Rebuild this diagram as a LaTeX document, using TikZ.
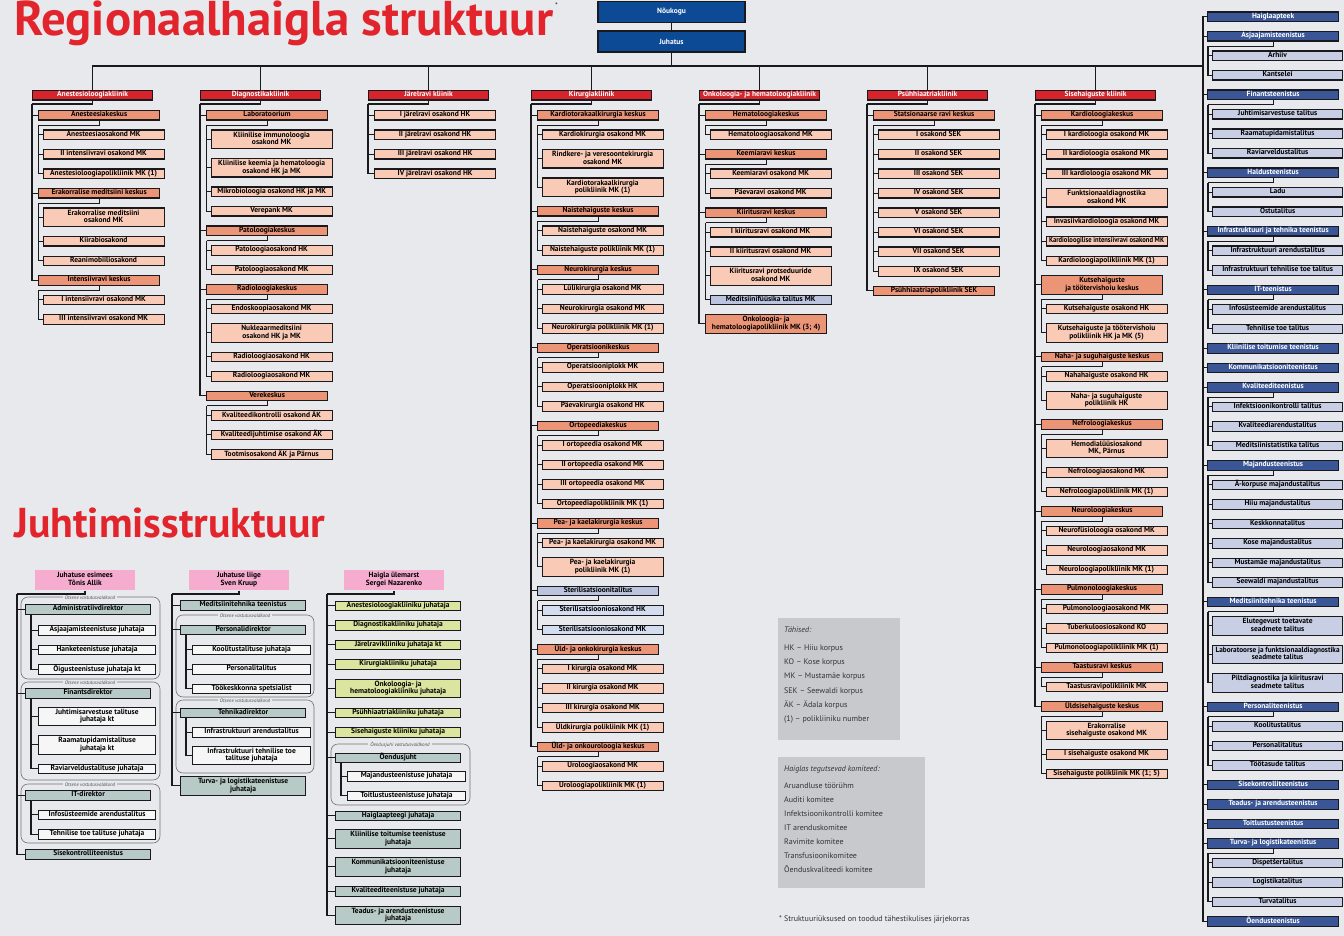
\documentclass[tikz,border=0pt]{standalone}
\usepackage{fontspec}
\usepackage{graphicx}
\setmainfont{PT Sans}
\usetikzlibrary{calc}

\definecolor{bgc}{RGB}{231,233,236}
\definecolor{linec}{RGB}{25,25,30}
\definecolor{hdrred}{RGB}{214,36,44}
\definecolor{titlered}{RGB}{226,36,44}
\definecolor{kcol}{RGB}{235,148,118}
\definecolor{scol}{RGB}{249,203,183}
\definecolor{stgray}{RGB}{186,196,222}
\definecolor{stsub}{RGB}{212,221,240}
\definecolor{navy}{RGB}{12,74,150}
\definecolor{tblue}{RGB}{58,86,150}
\definecolor{tsub}{RGB}{200,206,228}
\definecolor{pinkh}{RGB}{246,172,206}
\definecolor{ggreen}{RGB}{184,202,197}
\definecolor{ygreen}{RGB}{219,229,160}
\definecolor{whbox}{RGB}{246,246,246}
\definecolor{legc}{RGB}{200,201,204}

\tikzset{
  bx/.style={draw=linec,line width=1.2pt,inner sep=0.3pt,anchor=north west,align=center,
    font=\fontsize{7.5}{7.8}\selectfont\bfseries,text=black},
  ln/.style={draw=linec,line width=1.2pt},
  hst/.style={fill=hdrred,text=white},
  curk/.style={fill=kcol},
  curs/.style={fill=scol},
  pk/.style={bx,draw=none,fill=pinkh,minimum width=100pt,minimum height=20pt,anchor=center},
  gg/.style={fill=ggreen},
  yg/.style={fill=ygreen},
  wb/.style={fill=whbox},
  grp/.style={draw=black!55,line width=0.6pt,rounded corners=7pt},
  lbl/.style={fill=bgc,inner xsep=2pt,inner ysep=0.5pt,font=\fontsize{5}{5.4}\selectfont\itshape,text=black!70},
}

% fit text horizontally into a given width
\newsavebox\fitb
\newcommand\fit[2]{\sbox\fitb{\begin{tabular}{@{}c@{}}#2\end{tabular}}%
  \edef\fitw{\the\wd\fitb}%
  \pgfmathsetmacro\fitfac{min(1,(#1)/\fitw)}%
  \scalebox{\fitfac}[1]{\usebox\fitb}}

\newcommand\curY{0}
\newcommand\setY[1]{\xdef\curY{#1}}
\newcommand\advY[1]{\pgfmathsetmacro\tmpY{\curY+#1}\xdef\curY{\tmpY}}
\newcommand\colL{0}
\newcommand\koff{6}
\newcommand\kw{121}
\newcommand\soff{10.5}
\newcommand\sw{121}
\newcommand\spprev{}
\newcommand\subprev{}
\newcommand\curK{}
\newcommand\subfirst{0}

\newcommand\Col[3]{%
  \xdef\colL{#2}%
  \node[bx,hst,minimum width=120pt,minimum height=9.5pt] (#1) at (#2,90) {\fit{114}{#3}};
  \coordinate (#1X) at (#2,104);
  \draw[ln] (#1.south) |- (#1X);
  \draw[ln] (#1.north) |- (bus);
  \xdef\spprev{#1X}%
  \setY{110}}

\newcommand\K[3][1]{%
  \ifnum#1=1 \def\hh{9.5}\else\def\hh{18.5}\fi
  \node[bx,curk,minimum width=\kw pt,minimum height=\hh pt] (#2) at (\colL+\koff,\curY) {\fit{\kw-6}{#3}};
  \draw[ln] (\spprev) |- (#2.west);
  \path (#2.west) ++(-\koff,0) coordinate (#2X);
  \xdef\spprev{#2X}%
  \path (#2.south) ++(0,4.5) coordinate (#2Y);
  \path (#2Y -| #2.west) ++({\soff-4-\koff},0) coordinate (#2Z);
  \xdef\subprev{#2Z}\xdef\curK{#2}\gdef\subfirst{1}%
  \advY{\hh+10}}

\newcommand\Sb[3][1]{%
  \ifnum#1=1 \def\hh{9.5}\else\def\hh{18.5}\fi
  \node[bx,curs,minimum width=\sw pt,minimum height=\hh pt] (#2) at (\colL+\soff,\curY) {\fit{\sw-6}{#3}};
  \ifnum\subfirst=1 \draw[ln] (\curK.south) |- (\subprev);\fi
  \gdef\subfirst{0}%
  \draw[ln] (\subprev) |- (#2.west);
  \path (#2.west) ++(-4,0) coordinate (#2X);
  \xdef\subprev{#2X}%
  \advY{\hh+10}}

% management box: name, x, top, width, height, style, text
\newcommand\MB[7]{\node[bx,#6,minimum width=#4pt,minimum height=#5pt] (#1) at (#2,#3) {\fit{#4-6}{#7}};}

\begin{document}
\begin{tikzpicture}[x=1pt,y=-1pt]
\useasboundingbox (0,0) rectangle (1344,936);
\fill[bgc] (0,0) rectangle (1344,936);

% titles
\node[anchor=base west,inner sep=0,text=titlered,font=\bfseries] (ttl) at (14,36) {\resizebox{539pt}{!}{Regionaalhaigla struktuur}};
\node[anchor=north west,inner sep=0,text=black!80,font=\fontsize{8}{8}\selectfont] (ast) at (555,3) {*};
\node[anchor=base west,inner sep=0,text=titlered,font=\bfseries] (ttl2) at (14,537) {\resizebox{311pt}{!}{Juhtimisstruktuur}};

% top
\node[bx,fill=navy,text=white,anchor=center,minimum width=147pt,minimum height=20.5pt] (nk) at (671.5,12) {Nõukogu};
\node[bx,fill=navy,text=white,anchor=center,minimum width=147pt,minimum height=21pt] (jh) at (671.5,41.5) {Juhatus};
\draw[ln] (nk.south) -- (jh.north);
\coordinate (bus) at (671.5,66);
\coordinate (rbus) at (1203,66);
\draw[ln] (jh.south) -- (bus);
\draw[ln] (bus) -- (rbus);

% ---------- column 1
\Col{ca}{32}{Anestesioloogiakliinik}
\K{a1}{Anesteesiakeskus}
 \Sb{a1a}{Anesteesiaosakond MK}
 \Sb{a1b}{II intensiivravi osakond MK}
 \Sb{a1c}{Anestesioloogiapolikliinik MK (1)}
\K{a2}{Erakorralise meditsiini keskus}
 \Sb[2]{a2a}{Erakorralise meditsiini\\osakond MK}
 \Sb{a2b}{Kiirabiosakond}
 \Sb{a2c}{Reanimobiiliosakond}
\K{a3}{Intensiivravi keskus}
 \Sb{a3a}{I intensiivravi osakond MK}
 \Sb{a3b}{III intensiivravi osakond MK}

% ---------- column 2
\Col{cb}{200}{Diagnostikakliinik}
\K{b1}{Laboratoorium}
 \Sb[2]{b1a}{Kliinilise immunoloogia\\osakond MK}
 \Sb[2]{b1b}{Kliinilise keemia ja hematoloogia\\osakond HK ja MK}
 \Sb{b1c}{Mikrobioloogia osakond HK ja MK}
 \Sb{b1d}{Verepank MK}
\K{b2}{Patoloogiakeskus}
 \Sb{b2a}{Patoloogiaosakond HK}
 \Sb{b2b}{Patoloogiaosakond MK}
\K{b3}{Radioloogiakeskus}
 \Sb{b3a}{Endoskoopiaosakond MK}
 \Sb[2]{b3b}{Nukleaarmeditsiini\\osakond HK ja MK}
 \Sb{b3c}{Radioloogiaosakond HK}
 \Sb{b3d}{Radioloogiaosakond MK}
\K{b4}{Verekeskus}
 \Sb{b4a}{Kvaliteedikontrolli osakond ÄK}
 \Sb{b4b}{Kvaliteedijuhtimise osakond ÄK}
 \Sb{b4c}{Tootmisosakond ÄK ja Pärnus}

% ---------- column 3
\Col{cc}{368}{Järelravi kliinik}
\tikzset{curk/.style={fill=scol}}
\K{c1}{I järelravi osakond HK}
\K{c2}{II järelravi osakond HK}
\K{c3}{III järelravi osakond HK}
\K{c4}{IV järelravi osakond HK}
\tikzset{curk/.style={fill=kcol}}

% ---------- column 4
\Col{cd}{531}{Kirurgiakliinik}
\K{d1}{Kardiotorakaalkirurgia keskus}
 \Sb{d1a}{Kardiokirurgia osakond MK}
 \Sb[2]{d1b}{Rindkere- ja veresoontekirurgia\\osakond MK}
 \Sb[2]{d1c}{Kardiotorakaalkirurgia\\polikliinik MK (1)}
\K{d2}{Naistehaiguste keskus}
 \Sb{d2a}{Naistehaiguste osakond MK}
 \Sb{d2b}{Naistehaiguste polikliinik MK (1)}
\K{d3}{Neurokirurgia keskus}
 \Sb{d3a}{Lülikirurgia osakond MK}
 \Sb{d3b}{Neurokirurgia osakond MK}
 \Sb{d3c}{Neurokirurgia polikliinik MK (1)}
\K{d4}{Operatsioonikeskus}
 \Sb{d4a}{Operatsiooniplokk MK}
 \Sb{d4b}{Operatsiooniplokk HK}
 \Sb{d4c}{Päevakirurgia osakond HK}
\K{d5}{Ortopeediakeskus}
 \Sb{d5a}{I ortopeedia osakond MK}
 \Sb{d5b}{II ortopeedia osakond MK}
 \Sb{d5c}{III ortopeedia osakond MK}
 \Sb{d5d}{Ortopeediapolikliinik MK (1)}
\K{d6}{Pea- ja kaelakirurgia keskus}
 \Sb{d6a}{Pea- ja kaelakirurgia osakond MK}
 \Sb[2]{d6b}{Pea- ja kaelakirurgia\\polikliinik MK (1)}
\tikzset{curk/.style={fill=stgray},curs/.style={fill=stsub}}
\K{d7}{Sterilisatsioonitalitus}
 \Sb{d7a}{Sterilisatsiooniosakond HK}
 \Sb{d7b}{Sterilisatsiooniosakond MK}
\tikzset{curk/.style={fill=kcol},curs/.style={fill=scol}}
\K{d8}{Üld- ja onkokirurgia keskus}
 \Sb{d8a}{I kirurgia osakond MK}
 \Sb{d8b}{II kirurgia osakond MK}
 \Sb{d8c}{III kirurgia osakond MK}
 \Sb{d8d}{Üldkirurgia polikliinik MK (1)}
\K{d9}{Üld- ja onkouroloogia keskus}
 \Sb{d9a}{Uroloogiaosakond MK}
 \Sb{d9b}{Uroloogiapolikliinik MK (1)}

% ---------- column 5
\Col{ce}{699}{Onkoloogia- ja hematoloogiakliinik}
\K{e1}{Hematoloogiakeskus}
 \Sb{e1a}{Hematoloogiaosakond MK}
\K{e2}{Keemiaravi keskus}
 \Sb{e2a}{Keemiaravi osakond MK}
 \Sb{e2b}{Päevaravi osakond MK}
\K{e3}{Kiiritusravi keskus}
 \Sb{e3a}{I kiiritusravi osakond MK}
 \Sb{e3b}{II kiiritusravi osakond MK}
 \Sb[2]{e3c}{Kiiritusravi protseduuride\\osakond MK}
\tikzset{curs/.style={fill=stgray}}
 \Sb{e3d}{Meditsiinifüüsika talitus MK}
\tikzset{curs/.style={fill=scol}}
\K[2]{e4}{Onkoloogia- ja\\hematoloogiapolikliinik MK (3; 4)}

% ---------- column 6
\Col{cf}{867}{Psühhiaatriakliinik}
\K{f1}{Statsionaarse ravi keskus}
 \Sb{f1a}{I osakond SEK}
 \Sb{f1b}{II osakond SEK}
 \Sb{f1c}{III osakond SEK}
 \Sb{f1d}{IV osakond SEK}
 \Sb{f1e}{V osakond SEK}
 \Sb{f1f}{VI osakond SEK}
 \Sb{f1g}{VII osakond SEK}
 \Sb{f1h}{IX osakond SEK}
\K{f2}{Psühhiaatriapolikliinik SEK}

% ---------- column 7
\Col{cg}{1035}{Sisehaiguste kliinik}
\K{g1}{Kardioloogiakeskus}
 \Sb{g1a}{I kardioloogia osakond MK}
 \Sb{g1b}{II kardioloogia osakond MK}
 \Sb{g1c}{III kardioloogia osakond MK}
 \Sb[2]{g1d}{Funktsionaaldiagnostika\\osakond MK}
 \Sb{g1e}{Invasiivkardioloogia osakond MK}
 \Sb{g1f}{Kardioloogilise intensiivravi osakond MK}
 \Sb{g1g}{Kardioloogiapolikliinik MK (1)}
\K[2]{g2}{Kutsehaiguste\\ja töötervishoiu keskus}
 \Sb{g2a}{Kutsehaiguste osakond HK}
 \Sb[2]{g2b}{Kutsehaiguste ja töötervishoiu\\polikliinik HK ja MK (5)}
\K{g3}{Naha- ja suguhaiguste keskus}
 \Sb{g3a}{Nahahaiguste osakond HK}
 \Sb[2]{g3b}{Naha- ja suguhaiguste\\polikliinik HK}
\K{g4}{Nefroloogiakeskus}
 \Sb[2]{g4a}{Hemodialüüsiosakond\\MK, Pärnus}
 \Sb{g4b}{Nefroloogiaosakond MK}
 \Sb{g4c}{Nefroloogiapolikliinik MK (1)}
\K{g5}{Neuroloogiakeskus}
 \Sb{g5a}{Neurofüsioloogia osakond MK}
 \Sb{g5b}{Neuroloogiaosakond MK}
 \Sb{g5c}{Neuroloogiapolikliinik MK (1)}
\K{g6}{Pulmonoloogiakeskus}
 \Sb{g6a}{Pulmonoloogiaosakond MK}
 \Sb{g6b}{Tuberkuloosiosakond KO}
 \Sb{g6c}{Pulmonoloogiapolikliinik MK (1)}
\K{g7}{Taastusravi keskus}
 \Sb{g7a}{Taastusravipolikliinik MK}
\K{g8}{Üldsisehaiguste keskus}
 \Sb[2]{g8a}{Erakorralise\\sisehaiguste osakond MK}
 \Sb{g8b}{I sisehaiguste osakond MK}
 \Sb{g8c}{Sisehaiguste polikliinik MK (1; 5)}

% ---------- right column (services)
\xdef\colL{1203}
\renewcommand\koff{4}\renewcommand\kw{131}\renewcommand\soff{9}\renewcommand\sw{130}
\tikzset{curk/.style={fill=tblue,text=white},curs/.style={fill=tsub}}
\coordinate (rtop) at (1203,16.25);
\xdef\spprev{rtop}
\setY{11.5}
\K{r1}{Haiglaapteek}
\K{r2}{Asjaajamisteenistus}
 \Sb{r2a}{Arhiiv}
 \Sb{r2b}{Kantselei}
\K{r3}{Finantsteenistus}
 \Sb{r3a}{Juhtimisarvestuse talitus}
 \Sb{r3b}{Raamatupidamistalitus}
 \Sb{r3c}{Raviarveldustalitus}
\K{r4}{Haldusteenistus}
 \Sb{r4a}{Ladu}
 \Sb{r4b}{Ostutalitus}
\K{r5}{Infrastruktuuri ja tehnika teenistus}
 \Sb{r5a}{Infrastruktuuri arendustalitus}
 \Sb{r5b}{Infrastruktuuri tehnilise toe talitus}
\K{r6}{IT-teenistus}
 \Sb{r6a}{Infosüsteemide arendustalitus}
 \Sb{r6b}{Tehnilise toe talitus}
\K{r7}{Kliinilise toitumise teenistus}
\K{r8}{Kommunikatsiooniteenistus}
\K{r9}{Kvaliteediteenistus}
 \Sb{r9a}{Infektsioonikontrolli talitus}
 \Sb{r9b}{Kvaliteediarendustalitus}
 \Sb{r9c}{Meditsiinistatistika talitus}
\K{r10}{Majandusteenistus}
 \Sb{r10a}{Ä-korpuse majandustalitus}
 \Sb{r10b}{Hiiu majandustalitus}
 \Sb{r10c}{Keskkonnatalitus}
 \Sb{r10d}{Kose majandustalitus}
 \Sb{r10e}{Mustamäe majandustalitus}
 \Sb{r10f}{Seewaldi majandustalitus}
\K{r11}{Meditsiinitehnika teenistus}
 \Sb[2]{r11a}{Elutegevust toetavate\\seadmete talitus}
 \Sb[2]{r11b}{Laboratoorse ja funktsionaaldiagnostika\\seadmete talitus}
 \Sb[2]{r11c}{Piltdiagnostika ja kiiritusravi\\seadmete talitus}
\K{r12}{Personaliteenistus}
 \Sb{r12a}{Koolitustalitus}
 \Sb{r12b}{Personalitalitus}
 \Sb{r12c}{Töötasude talitus}
\K{r13}{Sisekontrolliteenistus}
\K{r14}{Teadus- ja arendusteenistus}
\K{r15}{Toitlustusteenistus}
\K{r16}{Turva- ja logistikateenistus}
 \Sb{r16a}{Dispetšertalitus}
 \Sb{r16b}{Logistikatalitus}
 \Sb{r16c}{Turvatalitus}
\K{r17}{Õendusteenistus}

% ---------- management structure
\node[pk] (pA) at (85,580) {\fit{96}{Juhatuse esimees\\Tõnis Allik}};
\node[pk] (pB) at (239,580) {\fit{96}{Juhatuse liige\\Sven Kruup}};
\node[pk] (pC) at (394,580) {\fit{96}{Haigla ülemarst\\Sergei Nazarenko}};

% groups
\draw[grp] (21,597) rectangle (160,679);
\draw[grp] (21,682) rectangle (160,780);
\draw[grp] (21,784) rectangle (160,843);
\draw[grp] (176,615) rectangle (314,697);
\draw[grp] (176,700) rectangle (314,773);
\draw[grp] (331,744) rectangle (470,805);
\node[lbl] (l1) at (90,598) {Otsene vastutusvaldkond};
\node[lbl] (l2) at (90,683) {Otsene vastutusvaldkond};
\node[lbl] (l3) at (90,785) {Otsene vastutusvaldkond};
\node[lbl] (l4) at (245,616) {Otsene vastutusvaldkond};
\node[lbl] (l5) at (245,701) {Otsene vastutusvaldkond};
\node[lbl] (l6) at (400,745) {Õendusjuhi vastutusvaldkond};

% column A
\MB{ma1}{25}{604}{125}{9.5}{gg}{Administratiivdirektor}
\MB{ma1a}{38}{625}{117}{9.5}{wb}{Asjaajamisteenistuse juhataja}
\MB{ma1b}{38}{644.5}{117}{9.5}{wb}{Hanketeenistuse juhataja}
\MB{ma1c}{38}{664}{117}{9.5}{wb}{Õigusteenistuse juhataja kt}
\MB{ma2}{25}{688}{125}{9.5}{gg}{Finantsdirektor}
\MB{ma2a}{38}{706.5}{117}{18.5}{wb}{Juhtimisarvestuse talituse\\juhataja kt}
\MB{ma2b}{38}{735}{117}{18.5}{wb}{Raamatupidamistalituse\\juhataja kt}
\MB{ma2c}{38}{763.5}{117}{9.5}{wb}{Raviarveldustalituse juhataja}
\MB{ma3}{25}{790}{125}{9.5}{gg}{IT-direktor}
\MB{ma3a}{38}{809.5}{117}{9.5}{wb}{Infosüsteemide arendustalitus}
\MB{ma3b}{38}{829}{117}{9.5}{wb}{Tehnilise toe talituse juhataja}
\MB{ma4}{25}{849}{125}{9.5}{gg}{Sisekontrolliteenistus}
\coordinate (cA) at (17,594);
\draw[ln] (pA.south) |- (cA);
\draw[ln] (cA) |- (ma4.west);
\foreach \n in {ma1,ma2,ma3} \draw[ln] (\n.west) -- ++(-8,0);
\draw[ln] ([xshift=6pt]ma1.south west) |- (ma1c.west);
\draw[ln] ([xshift=6pt]ma2.south west) |- (ma2c.west);
\draw[ln] ([xshift=6pt]ma3.south west) |- (ma3b.west);
\foreach \n in {ma1a,ma1b,ma2a,ma2b,ma3a} \draw[ln] (\n.west) -- ++(-7,0);

% column B
\MB{mb1}{180}{600}{125}{9.5}{gg}{Meditsiinitehnika teenistus}
\MB{mb2}{180}{624.5}{125}{9.5}{gg}{Personalidirektor}
\MB{mb2a}{192}{644.5}{118}{9.5}{wb}{Koolitustalituse juhataja}
\MB{mb2b}{192}{664}{118}{9.5}{wb}{Personalitalitus}
\MB{mb2c}{192}{683.5}{118}{9.5}{wb}{Töökeskkonna spetsialist}
\MB{mb3}{180}{707.5}{125}{9.5}{gg}{Tehnikadirektor}
\MB{mb3a}{192}{727}{118}{9.5}{wb}{Infrastruktuuri arendustalitus}
\MB{mb3b}{192}{745.5}{118}{18.5}{wb}{Infrastruktuuri tehnilise toe\\talituse juhataja}
\MB{mb4}{180}{776}{125}{18.5}{gg}{Turva- ja logistikateenistuse\\juhataja}
\coordinate (cB) at (172,594);
\draw[ln] (pB.south) |- (cB);
\draw[ln] (cB) |- (mb4.west);
\foreach \n in {mb1,mb2,mb3} \draw[ln] (\n.west) -- ++(-8,0);
\draw[ln] ([xshift=6pt]mb2.south west) |- (mb2c.west);
\draw[ln] ([xshift=6pt]mb3.south west) |- (mb3b.west);
\foreach \n in {mb2a,mb2b,mb3a} \draw[ln] (\n.west) -- ++(-6,0);

% column C
\MB{mc1}{335}{600.5}{125}{9.5}{yg}{Anestesioloogiakliiniku juhataja}
\MB{mc2}{335}{620}{125}{9.5}{yg}{Diagnostikakliiniku juhataja}
\MB{mc3}{335}{639.5}{125}{9.5}{yg}{Järelravikliiniku juhataja kt}
\MB{mc4}{335}{659}{125}{9.5}{yg}{Kirurgiakliiniku juhataja}
\MB{mc5}{335}{678.5}{125}{18.5}{yg}{Onkoloogia- ja\\hematoloogiakliiniku juhataja}
\MB{mc6}{335}{707.5}{125}{9.5}{yg}{Psühhiaatriakliiniku juhataja}
\MB{mc7}{335}{727}{125}{9.5}{yg}{Sisehaiguste kliiniku juhataja}
\MB{mc8}{335}{752.5}{125}{9.5}{gg}{Õendusjuht}
\MB{mc8a}{347}{771}{118}{9.5}{wb}{Majandusteenistuse juhataja}
\MB{mc8b}{347}{790.5}{118}{9.5}{wb}{Toitlustusteenistuse juhataja}
\MB{mc9}{335}{810.5}{125}{9.5}{gg}{Haiglaapteegi juhataja}
\MB{mc10}{335}{829}{125}{18.5}{gg}{Kliinilise toitumise teenistuse\\juhataja}
\MB{mc11}{335}{857}{125}{18.5}{gg}{Kommunikatsiooniteenistuse\\juhataja}
\MB{mc12}{335}{886}{125}{9.5}{gg}{Kvaliteediteenistuse juhataja}
\MB{mc13}{335}{905.5}{125}{18.5}{gg}{Teadus- ja arendusteenistuse\\juhataja}
\coordinate (cC) at (327,594);
\draw[ln] (pC.south) |- (cC);
\draw[ln] (cC) |- (mc13.west);
\foreach \n in {mc1,mc2,mc3,mc4,mc5,mc6,mc7,mc8,mc9,mc10,mc11,mc12} \draw[ln] (\n.west) -- ++(-8,0);
\draw[ln] ([xshift=6pt]mc8.south west) |- (mc8b.west);
\draw[ln] (mc8a.west) -- ++(-6,0);

% ---------- legends
\fill[legc] (778,618) rectangle (900,740);
\node[anchor=north west,inner sep=0,align=left,font=\fontsize{8}{14.3}\selectfont,text=black!80] (lg1) at (784,627)
 {\textit{Tähised:}\\[3pt]HK -- Hiiu korpus\\KO -- Kose korpus\\MK -- Mustamäe korpus\\SEK -- Seewaldi korpus\\ÄK -- Ädala korpus\\(1) -- polikliiniku number};
\fill[legc] (778,757) rectangle (925,888);
\node[anchor=north west,inner sep=0,align=left,font=\fontsize{8}{14}\selectfont,text=black!80] (lg2) at (784,766)
 {\textit{Haiglas tegutsevad komiteed:}\\[3pt]Aruandluse töörühm\\Auditi komitee\\Infektsioonikontrolli komitee\\IT arenduskomitee\\Ravimite komitee\\Transfusioonikomitee\\Õenduskvaliteedi komitee};
\node[anchor=west,inner sep=0,font=\fontsize{8}{8}\selectfont,text=black!80] (fn) at (779,919) {* Struktuuriüksused on toodud tähestikulises järjekorras};
\end{tikzpicture}
\end{document}
